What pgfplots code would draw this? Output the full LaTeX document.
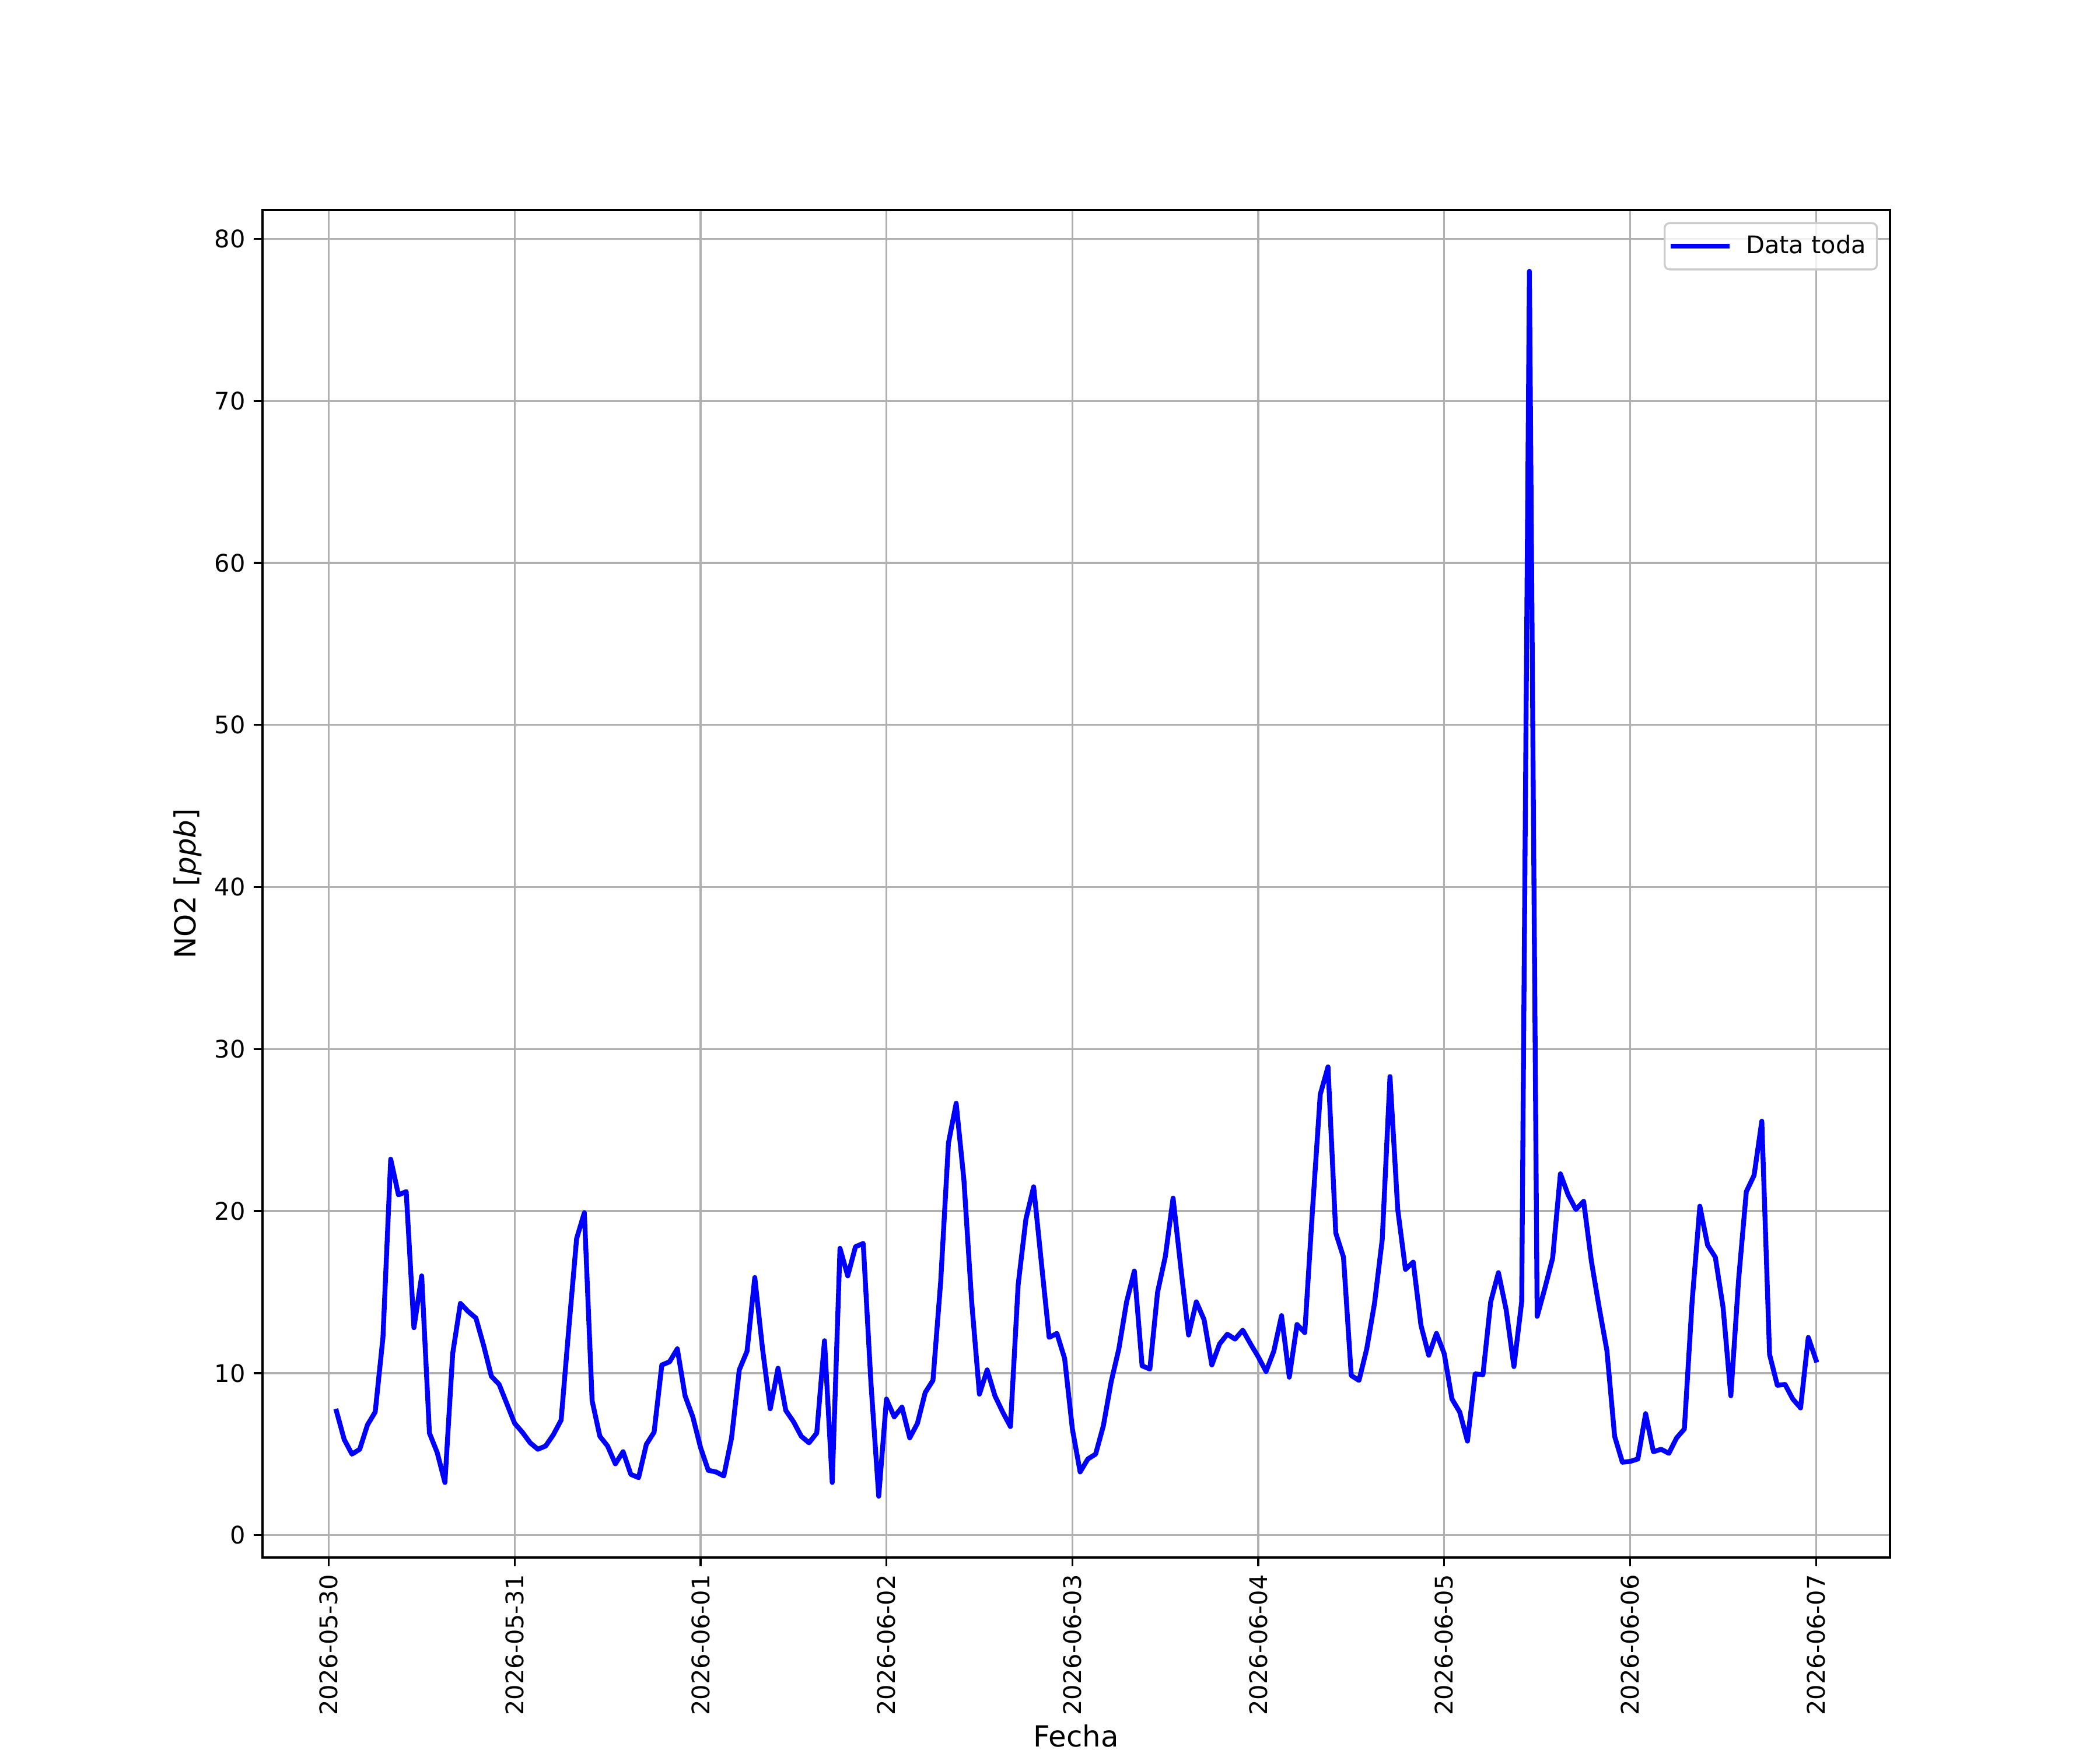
\documentclass[border=0pt]{standalone}
\usepackage{fontspec}
\setmainfont{DejaVu Sans}
\usepackage{pgfplots}
\pgfplotsset{compat=1.18}

\definecolor{gridgray}{HTML}{B0B0B0}
\definecolor{legendedge}{HTML}{CCCCCC}

\begin{document}
\begin{tikzpicture}
\path[use as bounding box] (-1.5in,-1.1in) rectangle (10.5in,8.9in);
\begin{axis}[
at={(0,0)}, anchor=south west,
width=9.3in, height=7.7in,
scale only axis,
xmin=-8.55, xmax=201.55,
ymin=-1.38, ymax=81.78,
xtick={0,24,...,192},
xticklabels={2026-05-30,2026-05-31,2026-06-01,2026-06-02,2026-06-03,2026-06-04,2026-06-05,2026-06-06,2026-06-07},
ytick={0,10,...,80},
xtick pos=bottom, ytick pos=left,
tick align=outside,
major tick length=3.5bp,
tick style={black, line width=0.8bp},
axis line style={black, line width=0.8bp},
grid=major,
grid style={gridgray, line width=0.8bp},
/pgf/number format/assume math mode=true,
tick label style={font=\fontsize{10}{12}\selectfont},
xticklabel style={rotate=90, anchor=east},
xlabel={Fecha},
ylabel={NO2 [\textit{ppb}]},
label style={font=\fontsize{12}{14}\selectfont},
xlabel style={at={(axis description cs:0.5,-0.1405)}, anchor=base, inner sep=0pt},
ylabel style={at={(axis description cs:-0.0369,0.5)}, anchor=south, rotate=0, inner sep=0pt},
legend style={at={(1,1)}, anchor=north east, xshift=-5bp, yshift=-5bp,
  draw=legendedge, line width=0.8bp, rounded corners=2bp,
  fill=white, fill opacity=0.8, text opacity=1,
  font=\fontsize{10}{12}\selectfont, inner xsep=2.5bp, inner ysep=3bp},
legend image code/.code={\draw[#1] (0cm,0cm) -- (0.78cm,0cm); \path (0.95cm,0cm);},
legend cell align=left,
clip=true,
]

\addplot [color=blue, line width=2bp, line join=round, line cap=rect]
coordinates{
(1,7.65)(2,5.9)(3,5.0)(4,5.3)(5,6.8)(6,7.6)(7,12.2)(8,23.2)(9,21.0)(10,21.2)(11,12.8)(12,16.0)
(13,6.3)(14,5.1)(15,3.25)(16,11.2)(17,14.3)(18,13.8)(19,13.4)(20,11.7)(21,9.8)(22,9.3)(23,8.1)(24,6.9)
(25,6.35)(26,5.7)(27,5.3)(28,5.5)(29,6.2)(30,7.1)(31,12.8)(32,18.3)(33,19.9)(34,8.3)(35,6.1)(36,5.5)
(37,4.4)(38,5.15)(39,3.75)(40,3.55)(41,5.6)(42,6.35)(43,10.5)(44,10.7)(45,11.5)(46,8.6)(47,7.3)(48,5.4)
(49,4.0)(50,3.9)(51,3.65)(52,6.0)(53,10.2)(54,11.35)(55,15.9)(56,11.5)(57,7.8)(58,10.3)(59,7.7)(60,7.0)
(61,6.1)(62,5.7)(63,6.3)(64,12.0)(65,3.25)(66,17.7)(67,16.0)(68,17.8)(69,18.0)(70,9.35)(71,2.4)(72,8.4)
(73,7.3)(74,7.9)(75,6.0)(76,6.9)(77,8.8)(78,9.55)(79,15.65)(80,24.2)(81,26.65)(82,21.9)(83,14.4)(84,8.7)
(85,10.2)(86,8.6)(87,7.6)(88,6.7)(89,15.45)(90,19.5)(91,21.5)(92,16.8)(93,12.2)(94,12.45)(95,10.9)(96,6.55)
(97,3.9)(98,4.7)(99,5.0)(100,6.75)(101,9.45)(102,11.5)(103,14.4)(104,16.3)(105,10.45)(106,10.25)(107,15.0)(108,17.2)
(109,20.8)(110,16.5)(111,12.35)(112,14.4)(113,13.3)(114,10.5)(115,11.8)(116,12.4)(117,12.1)(118,12.65)(119,11.8)(120,11.0)
(121,10.1)(122,11.35)(123,13.55)(124,9.75)(125,13.0)(126,12.5)(127,20.1)(128,27.2)(129,28.9)(130,18.65)(131,17.15)(132,9.85)
(133,9.55)(134,11.5)(135,14.3)(136,18.25)(137,28.3)(138,20.1)(139,16.4)(140,16.85)(141,12.95)(142,11.1)(143,12.45)(144,11.2)
(145,8.4)(146,7.6)(147,5.8)(148,9.95)(149,9.9)(150,14.4)(151,16.2)(152,13.9)(153,10.4)(154,14.4)(155,78.0)(156,13.5)
(157,15.25)(158,17.1)(159,22.3)(160,21.0)(161,20.1)(162,20.6)(163,16.9)(164,14.05)(165,11.4)(166,6.1)(167,4.5)(168,4.55)
(169,4.7)(170,7.5)(171,5.15)(172,5.3)(173,5.05)(174,6.0)(175,6.55)(176,14.4)(177,20.3)(178,17.9)(179,17.15)(180,14.05)
(181,8.6)(182,15.75)(183,21.2)(184,22.2)(185,25.55)(186,11.15)(187,9.25)(188,9.3)(189,8.4)(190,7.85)(191,12.2)(192,10.8)
};
\addlegendentry{Data toda}

\end{axis}
\end{tikzpicture}
\end{document}
